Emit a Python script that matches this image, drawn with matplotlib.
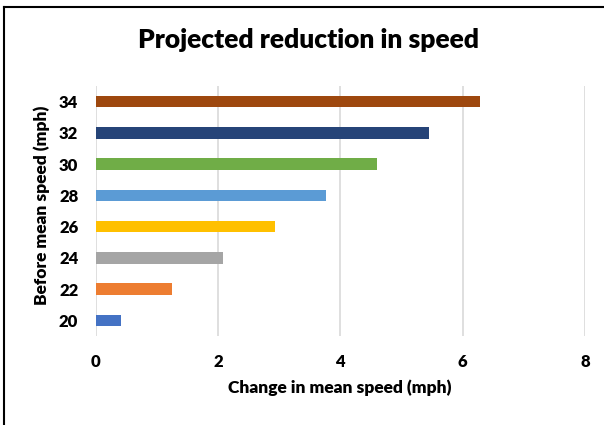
import matplotlib
matplotlib.use("Agg")
import matplotlib.pyplot as plt
from matplotlib.lines import Line2D

categories = ["20", "22", "24", "26", "28", "30", "32", "34"]
values = [0.41, 1.25, 2.08, 2.93, 3.76, 4.60, 5.45, 6.28]
colors = ["#4472C4", "#ED7D31", "#A5A5A5", "#FFC000", "#5B9BD5", "#70AD47", "#264478", "#9E480E"]
xticks = [0, 2, 4, 6, 8]

plt.rcParams['font.family'] = ['Lato', 'DejaVu Sans']
WT = 'heavy'

W, H = 604, 425
fig = plt.figure(figsize=(W/100, H/100), dpi=100)
ax = fig.add_axes([95.7/W, 1-336/H, (585-95.7)/W, (336-86)/H])

ypos = list(range(len(categories)))
ax.barh(ypos, values, height=0.37, color=colors, zorder=3)
ax.set_xlim(0, 8)
ax.set_ylim(-0.5, len(categories)-0.5)
ax.set_xticks(xticks)
ax.set_xticklabels([str(t) for t in xticks], fontsize=12, fontweight=WT)
ax.set_yticks(ypos)
ax.set_yticklabels(categories, fontsize=12, fontweight=WT)
ax.tick_params(length=0, pad=12.5)
ax.tick_params(axis='x', pad=13)
ax.grid(axis='x', color='#D9D9D9', linewidth=1.2, zorder=0)
for s in ax.spines.values():
    s.set_visible(False)

fig.text(308/W, 1-40/H, "Projected reduction in speed", ha='center', va='center',
         fontsize=19, fontweight=WT)
fig.text(340/W, 1-388/H, "Change in mean speed (mph)", ha='center', va='center',
         fontsize=12.5, fontweight=WT)
fig.text(42/W, 1-205/H, "Before mean speed (mph)", ha='center', va='center',
         rotation=90, fontsize=12.5, fontweight=WT)

fig.add_artist(Line2D([4/W, 4/W], [0, 1-7/H], color='black', linewidth=1.5, transform=fig.transFigure))
fig.add_artist(Line2D([4/W, 1], [1-7/H, 1-7/H], color='black', linewidth=1.5, transform=fig.transFigure))

fig.savefig("out.png", dpi=100)
